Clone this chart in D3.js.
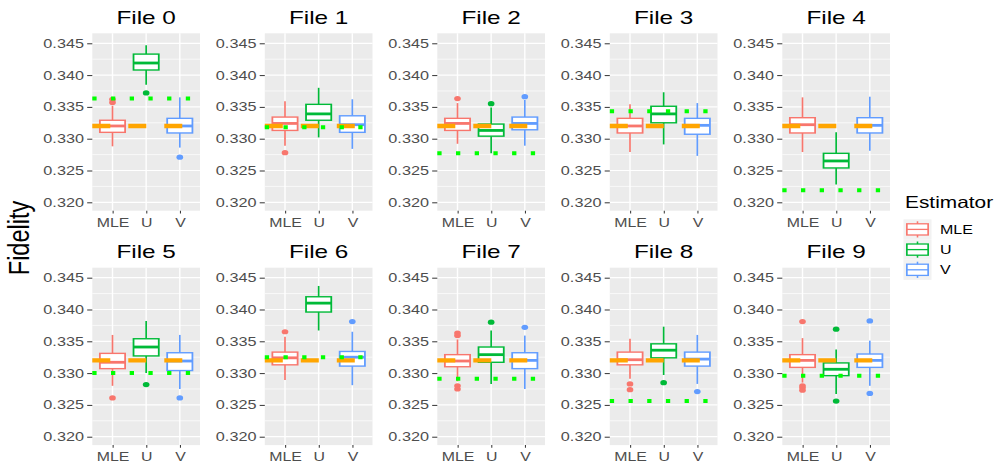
<!DOCTYPE html>
<html lang="en">
<head>
<meta charset="UTF-8">
<title>Fidelity by estimator</title>
<script src="https://d3js.org/d3.v7.min.js"></script>
<style>
  body { margin: 0; background: #fff; }
  text { font-family: "Liberation Sans", Arial, sans-serif; }
</style>
</head>
<body>
<script>
// data: per file, [lower whisker, q1, median, q3, upper whisker]
const files = ["File 0", "File 1", "File 2", "File 3", "File 4",
               "File 5", "File 6", "File 7", "File 8", "File 9"];
const estimators = ["MLE", "U", "V"];
const colors = ["#F8766D", "#00BA38", "#619CFF"];

const mleStats = [
  [0.3288, 0.3310, 0.3320, 0.3329, 0.3352],
  [0.3289, 0.3313, 0.3324, 0.3334, 0.3359],
  [0.3292, 0.3313, 0.3324, 0.3332, 0.3356],
  [0.3279, 0.3309, 0.3320, 0.3332, 0.3354],
  [0.3279, 0.3309, 0.3322, 0.3333, 0.3365],
  [0.3280, 0.3307, 0.3317, 0.3331, 0.3360],
  [0.3289, 0.3313, 0.3324, 0.3333, 0.3357],
  [0.3287, 0.3310, 0.3319, 0.3329, 0.3353],
  [0.3291, 0.3313, 0.3321, 0.3333, 0.3354],
  [0.3285, 0.3309, 0.3320, 0.3329, 0.3355]
];
const uStats = [
  [0.3385, 0.3408, 0.3419, 0.3433, 0.3447],
  [0.3302, 0.3329, 0.3339, 0.3354, 0.3380],
  [0.3277, 0.3304, 0.3313, 0.3323, 0.3349],
  [0.3291, 0.3325, 0.3339, 0.3351, 0.3373],
  [0.3228, 0.3254, 0.3265, 0.3277, 0.3310],
  [0.3300, 0.3327, 0.3341, 0.3354, 0.3382],
  [0.3367, 0.3396, 0.3410, 0.3420, 0.3437],
  [0.3283, 0.3317, 0.3329, 0.3341, 0.3367],
  [0.3297, 0.3324, 0.3336, 0.3346, 0.3373],
  [0.3267, 0.3296, 0.3306, 0.3316, 0.3337]
];
const vStats = [
  [0.3286, 0.3309, 0.3320, 0.3332, 0.3365],
  [0.3284, 0.3310, 0.3322, 0.3336, 0.3362],
  [0.3289, 0.3314, 0.3324, 0.3334, 0.3361],
  [0.3273, 0.3307, 0.3321, 0.3332, 0.3356],
  [0.3281, 0.3309, 0.3321, 0.3333, 0.3366],
  [0.3275, 0.3304, 0.3319, 0.3332, 0.3360],
  [0.3281, 0.3311, 0.3325, 0.3334, 0.3365],
  [0.3275, 0.3307, 0.3320, 0.3332, 0.3359],
  [0.3283, 0.3311, 0.3322, 0.3333, 0.3360],
  [0.3280, 0.3309, 0.3320, 0.3330, 0.3351]
];
const mleOutliers = [
  [0.3357, 0.3362], [0.3278], [0.3363], [], [],
  [0.3261], [0.3365], [0.3363, 0.3359, 0.3280, 0.3275], [0.3283, 0.3274],
  [0.3381, 0.3280, 0.3277, 0.3273]
];
const uOutliers = [
  [0.3372], [], [0.3355], [], [],
  [0.3282], [], [0.3380], [0.3285], [0.3369, 0.3256]
];
const vOutliers = [
  [0.3271], [], [0.3366], [], [],
  [0.3261], [0.3381], [0.3372], [0.3271], [0.3382, 0.3268]
];
const referenceLine = [0.3363, 0.3318, 0.3277, 0.3343, 0.3219,
                       0.3300, 0.3325, 0.3291, 0.3256, 0.3296];
const trueValue = 0.332;
const yTicks = [0.320, 0.325, 0.330, 0.335, 0.340, 0.345];
const yMinor = [0.3225, 0.3275, 0.3325, 0.3375, 0.3425];

const statsBy = [mleStats, uStats, vStats];
const outliersBy = [mleOutliers, uOutliers, vOutliers];

// the picture is stretched sideways, so draw in a narrower box and let it widen
const SX = 1.28;
const VW = 999 / SX;
const panelLeft0 = 92.3 / SX, panelStep = 172.5 / SX, panelW = 107.7 / SX;
const rowTops = [33.3, 267.7], panelH = 177.4;

const svg = d3.select("body").append("svg")
  .attr("width", 999).attr("height", 466)
  .attr("viewBox", `0 0 ${VW} 466`)
  .attr("preserveAspectRatio", "none");

const x = d3.scalePoint().domain(estimators).range([0, panelW]).padding(0.6);
const boxW = x.step() * 0.75;

files.forEach((name, fi) => {
  const row = Math.floor(fi / 5), col = fi % 5;
  const left = panelLeft0 + col * panelStep;
  const top = rowTops[row];
  const y = d3.scaleLinear().domain([0.31868, 0.34657]).range([top + panelH, top]);

  const g = svg.append("g").attr("transform", `translate(${left},0)`);

  g.append("rect").attr("x", 0).attr("y", top).attr("width", panelW).attr("height", panelH)
    .attr("fill", "#EBEBEB");

  g.selectAll(".minor").data(yMinor).join("line")
    .attr("x1", 0).attr("x2", panelW)
    .attr("y1", d => y(d)).attr("y2", d => y(d))
    .attr("stroke", "#fff").attr("stroke-width", 0.6);
  g.selectAll(".major").data(yTicks).join("line")
    .attr("x1", 0).attr("x2", panelW)
    .attr("y1", d => y(d)).attr("y2", d => y(d))
    .attr("stroke", "#fff").attr("stroke-width", 1.2);
  g.selectAll(".vgrid").data(estimators).join("line")
    .attr("x1", d => x(d)).attr("x2", d => x(d))
    .attr("y1", top).attr("y2", top + panelH)
    .attr("stroke", "#fff").attr("stroke-width", 1.1);

  // y axis
  const yAxis = g.append("g")
    .call(d3.axisLeft(y).tickValues(yTicks).tickFormat(d3.format(".3f"))
      .tickSize(4).tickPadding(2.5));
  yAxis.select(".domain").remove();
  yAxis.selectAll(".tick line").attr("stroke", "#333").attr("stroke-width", 1);
  yAxis.selectAll(".tick text").attr("fill", "#4D4D4D").attr("font-size", 12.7)
    .attr("font-family", "Liberation Sans, Arial, sans-serif");

  // x axis
  const xAxis = g.append("g").attr("transform", `translate(0,${top + panelH})`)
    .call(d3.axisBottom(x).tickSize(2.7).tickPadding(4.8));
  xAxis.select(".domain").remove();
  xAxis.selectAll(".tick line").attr("stroke", "#333").attr("stroke-width", 0.8);
  xAxis.selectAll(".tick text").attr("fill", "#4D4D4D").attr("font-size", 12.4)
    .attr("font-family", "Liberation Sans, Arial, sans-serif");

  // title
  g.append("text").attr("x", panelW / 2).attr("y", top - 9.5)
    .attr("text-anchor", "middle").attr("font-size", 19).attr("fill", "#000")
    .text(name);

  // boxes
  estimators.forEach((est, ei) => {
    const s = statsBy[ei][fi];
    const cx = x(est), c = colors[ei];
    const b = g.append("g");
    b.append("line").attr("x1", cx).attr("x2", cx).attr("y1", y(s[4])).attr("y2", y(s[3]))
      .attr("stroke", c).attr("stroke-width", 1.3);
    b.append("line").attr("x1", cx).attr("x2", cx).attr("y1", y(s[1])).attr("y2", y(s[0]))
      .attr("stroke", c).attr("stroke-width", 1.3);
    b.append("rect").attr("x", cx - boxW / 2).attr("width", boxW)
      .attr("y", y(s[3])).attr("height", y(s[1]) - y(s[3]))
      .attr("fill", "#fff").attr("stroke", c).attr("stroke-width", 1.4);
    b.append("line").attr("x1", cx - boxW / 2).attr("x2", cx + boxW / 2)
      .attr("y1", y(s[2])).attr("y2", y(s[2]))
      .attr("stroke", c).attr("stroke-width", 2.8);
    b.selectAll("circle").data(outliersBy[ei][fi]).join("circle")
      .attr("cx", cx).attr("cy", d => y(d)).attr("r", 2.6).attr("fill", c);
  });

  // true value and reference line
  g.append("line").attr("x1", 0).attr("x2", panelW)
    .attr("y1", y(trueValue)).attr("y2", y(trueValue))
    .attr("stroke", "#FFA500").attr("stroke-width", 4.3)
    .attr("stroke-dasharray", `${18 / SX},${18 / SX}`);
  g.append("line").attr("x1", 0).attr("x2", panelW)
    .attr("y1", y(referenceLine[fi])).attr("y2", y(referenceLine[fi]))
    .attr("stroke", "#00FF00").attr("stroke-width", 4)
    .attr("stroke-dasharray", `${4.3 / SX},${14.4 / SX}`);
});

// y axis title
svg.append("text")
  .attr("transform", `translate(${29 / SX},238) rotate(-90)`)
  .attr("text-anchor", "middle").attr("font-size", 23.5).attr("fill", "#000")
  .text("Fidelity");

// legend
const lg = svg.append("g").attr("transform", `translate(${905 / SX},0)`);
lg.append("text").attr("x", 0).attr("y", 208).attr("font-size", 16.3).attr("fill", "#000")
  .text("Estimator");
const keyW = 28 / SX, keyH = 20.2, keyTop = 219.3;
estimators.forEach((est, i) => {
  const ky = keyTop + i * keyH;
  const k = lg.append("g");
  k.append("rect").attr("x", -1.5 / SX).attr("y", ky).attr("width", keyW).attr("height", keyH)
    .attr("fill", "#F2F2F2");
  const cx = -1.5 / SX + keyW / 2;
  k.append("line").attr("x1", cx).attr("x2", cx).attr("y1", ky + 2).attr("y2", ky + keyH - 2)
    .attr("stroke", colors[i]).attr("stroke-width", 1.2);
  k.append("rect").attr("x", -1.5 / SX + keyW * 0.12).attr("width", keyW * 0.76)
    .attr("y", ky + 4.5).attr("height", keyH - 9)
    .attr("fill", "#fff").attr("stroke", colors[i]).attr("stroke-width", 1.3);
  k.append("line").attr("x1", -1.5 / SX + keyW * 0.12).attr("x2", -1.5 / SX + keyW * 0.88)
    .attr("y1", ky + keyH / 2).attr("y2", ky + keyH / 2)
    .attr("stroke", colors[i]).attr("stroke-width", 1.3);
  lg.append("text").attr("x", 35 / SX).attr("y", ky + keyH / 2 + 4.5)
    .attr("font-size", 12.5).attr("fill", "#000").text(est);
});
</script>
</body>
</html>
